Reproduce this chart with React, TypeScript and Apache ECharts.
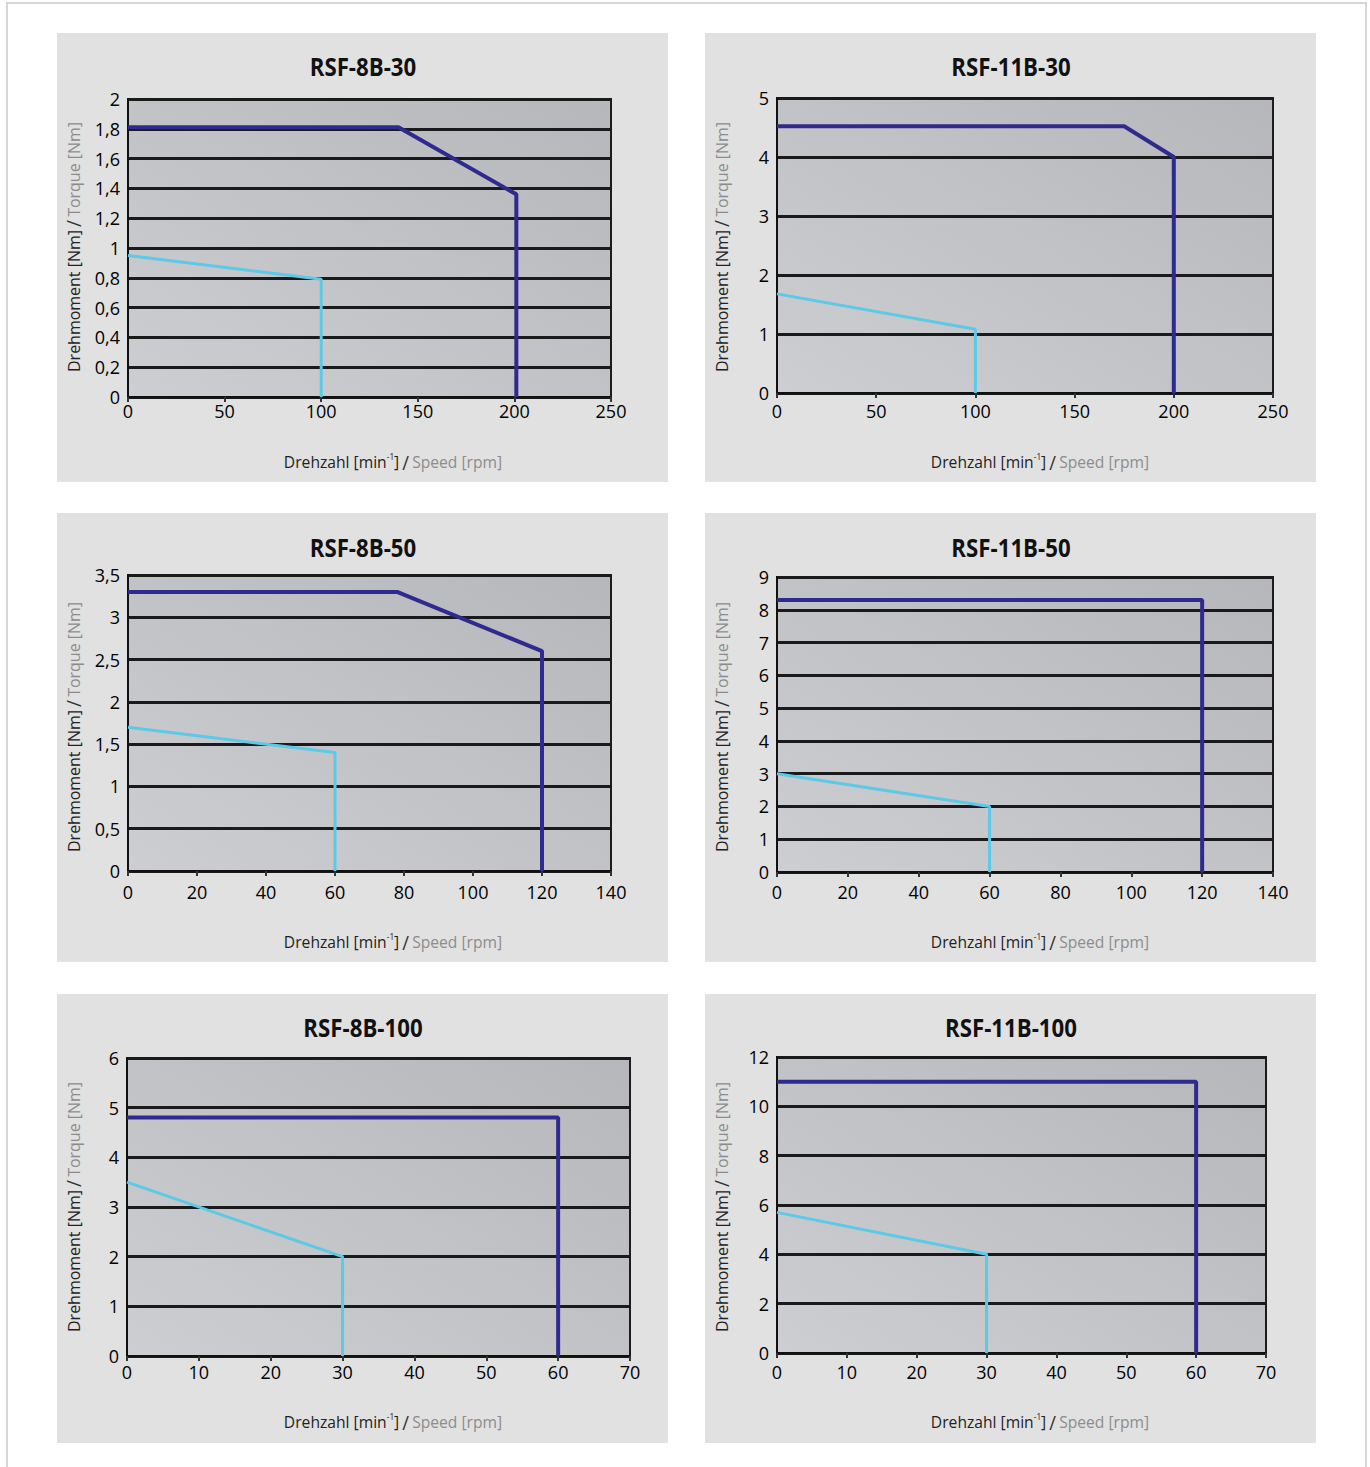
import React, { useEffect, useRef } from "react";
import * as echarts from "echarts";

// ---------- data ----------
const panelTitles = ["RSF-8B-30", "RSF-11B-30", "RSF-8B-50", "RSF-11B-50", "RSF-8B-100", "RSF-11B-100"];
const xMaxes = [250, 250, 140, 140, 70, 70];
const xSteps = [50, 50, 20, 20, 10, 10];
const yMaxes = [2, 5, 3.5, 9, 6, 12];
const ySteps = [0.2, 1, 0.5, 1, 1, 2];

const darkRSF8B30 = [[0, 1.81], [140, 1.81], [201, 1.36], [201, 0]];
const lightRSF8B30 = [[0, 0.95], [100, 0.79], [100, 0]];
const darkRSF11B30 = [[0, 4.52], [175, 4.52], [200, 4.0], [200, 0]];
const lightRSF11B30 = [[0, 1.68], [100, 1.08], [100, 0]];
const darkRSF8B50 = [[0, 3.3], [78, 3.3], [120, 2.6], [120, 0]];
const lightRSF8B50 = [[0, 1.7], [60, 1.4], [60, 0]];
const darkRSF11B50 = [[0, 8.3], [120, 8.3], [120, 0]];
const lightRSF11B50 = [[0, 3.0], [60, 2.0], [60, 0]];
const darkRSF8B100 = [[0, 4.8], [60, 4.8], [60, 0]];
const lightRSF8B100 = [[0, 3.5], [30, 2.0], [30, 0]];
const darkRSF11B100 = [[0, 11], [60, 11], [60, 0]];
const lightRSF11B100 = [[0, 5.7], [30, 4.0], [30, 0]];

const darkCurves = [darkRSF8B30, darkRSF11B30, darkRSF8B50, darkRSF11B50, darkRSF8B100, darkRSF11B100];
const lightCurves = [lightRSF8B30, lightRSF11B30, lightRSF8B50, lightRSF11B50, lightRSF8B100, lightRSF11B100];

// ---------- layout ----------
const panels = [
  { x: 57, y: 33, w: 611, h: 449 },
  { x: 705, y: 33, w: 611, h: 449 },
  { x: 57, y: 513, w: 611, h: 449 },
  { x: 705, y: 513, w: 611, h: 449 },
  { x: 57, y: 994, w: 611, h: 449 },
  { x: 705, y: 994, w: 611, h: 449 },
];
const grids = [
  { left: 128, top: 99, width: 483, height: 298 },
  { left: 777, top: 98, width: 496, height: 295 },
  { left: 128, top: 575, width: 483, height: 296 },
  { left: 777, top: 577, width: 496, height: 295 },
  { left: 127, top: 1058, width: 503, height: 298 },
  { left: 777, top: 1057, width: 489, height: 296 },
];
const xLabelMargins = [5, 9, 12, 11, 7, 10];
const titleCenters = [[363, 66], [1011, 66], [363, 547], [1011, 547], [363, 1027], [1011, 1027]];
const xNameCenters = [[393, 462], [1040, 462], [393, 942], [1040, 942], [393, 1422], [1040, 1422]];
const yNameCenters = [[73, 247], [721, 247], [73, 727], [721, 727], [73, 1207], [721, 1207]];

const DARK = "#2f2a8e";
const LIGHT = "#5cc9e6";
const SANS = '"Open Sans", "Noto Sans", sans-serif';

function fmt(v: number) {
  return String(Number(v.toFixed(2))).replace(".", ",");
}

const nameRich = {
  a: { fontFamily: SANS, fontSize: 17, fill: "#222", lineHeight: 20 },
  sup: { fontFamily: SANS, fontSize: 9, fill: "#222", verticalAlign: "top", lineHeight: 20 },
  s: { fontFamily: SANS, fontSize: 20, fill: "#333", lineHeight: 20 },
  b: { fontFamily: SANS, fontSize: 17, fill: "#8c8c8c", lineHeight: 20 },
};

export default function App() {
  const ref = useRef<HTMLDivElement>(null);
  useEffect(() => {
    if (!ref.current) return;
    const chart = echarts.init(ref.current, undefined, { renderer: "svg" });

    const graphic: any[] = [
      {
        type: "rect",
        shape: { x: 7, y: 3, width: 1359, height: 1500 },
        style: { fill: "#ffffff", stroke: "#d6d6d6", lineWidth: 2 },
        z: -10,
        silent: true,
      },
    ];
    panels.forEach((p) => {
      graphic.push({
        type: "rect",
        shape: { x: p.x, y: p.y, width: p.w, height: p.h },
        style: { fill: "#e1e1e1" },
        z: -9,
        silent: true,
      });
    });
    titleCenters.forEach((c, i) => {
      graphic.push({
        type: "text",
        x: c[0],
        y: c[1],
        scaleX: 0.89,
        style: {
          text: panelTitles[i],
          fill: "#111",
          font: `bold 25px ${SANS}`,
          align: "center",
          verticalAlign: "middle",
        },
        z: 10,
      });
    });
    xNameCenters.forEach((c) => {
      graphic.push({
        type: "text",
        x: c[0],
        y: c[1],
        scaleX: 0.92,
        style: {
          text: "{a|Drehzahl [min}{sup|-1}{a|]} {s|/} {b|Speed [rpm]}",
          align: "center",
          verticalAlign: "middle",
          rich: nameRich,
        },
        z: 10,
      });
    });
    yNameCenters.forEach((c) => {
      graphic.push({
        type: "text",
        x: c[0],
        y: c[1],
        rotation: Math.PI / 2,
        scaleX: 0.94,
        style: {
          text: "{a|Drehmoment [Nm]} {s|/} {b|Torque [Nm]}",
          align: "center",
          verticalAlign: "middle",
          rich: nameRich,
        },
        z: 10,
      });
    });

    const gridOpts = grids.map((g) => ({
      left: g.left,
      top: g.top,
      width: g.width,
      height: g.height,
      show: true,
      backgroundColor: new echarts.graphic.LinearGradient(0, 1, 1, 0, [
        { offset: 0, color: "#cdced1" },
        { offset: 1, color: "#b6b7bb" },
      ]),
      borderColor: "#1c1c1c",
      borderWidth: 2,
      containLabel: false,
    }));

    const xAxes = grids.map((_, i) => ({
      type: "value",
      gridIndex: i,
      z: 5,
      min: 0,
      max: xMaxes[i],
      interval: xSteps[i],
      axisLine: { show: true, lineStyle: { color: "#111", width: 2 } },
      axisTick: { show: true, length: 5, lineStyle: { color: "#333", width: 2 } },
      axisLabel: { color: "#000", fontFamily: SANS, fontSize: 18, margin: xLabelMargins[i] },
      splitLine: { show: false },
    }));

    const yAxes = grids.map((_, i) => ({
      type: "value",
      gridIndex: i,
      z: 5,
      min: 0,
      max: yMaxes[i],
      interval: ySteps[i],
      axisLine: { show: true, lineStyle: { color: "#111", width: 2 } },
      axisTick: { show: false },
      axisLabel: {
        color: "#000",
        fontFamily: SANS,
        fontSize: 18,
        margin: 8,
        formatter: (v: number) => fmt(v),
      },
      splitLine: {
        show: true,
        lineStyle: {
          color: "#1a1a1a",
          width: 3,
        },
      },
    }));

    const series: any[] = [];
    grids.forEach((_, i) => {
      series.push({
        type: "line",
        xAxisIndex: i,
        yAxisIndex: i,
        data: lightCurves[i],
        showSymbol: false,
        lineStyle: { color: LIGHT, width: 3 },
        z: 6,
      });
      series.push({
        type: "line",
        xAxisIndex: i,
        yAxisIndex: i,
        data: darkCurves[i],
        showSymbol: false,
        lineStyle: { color: DARK, width: 4 },
        z: 7,
      });
    });

    chart.setOption({
      animation: false,
      backgroundColor: "#ffffff",
      graphic,
      grid: gridOpts,
      xAxis: xAxes,
      yAxis: yAxes,
      series,
    });
    return () => chart.dispose();
  }, []);
  return (
    <div
      ref={ref}
      style={{ position: "absolute", left: 0, top: 0, width: 1370, height: 1467 }}
    />
  );
}
